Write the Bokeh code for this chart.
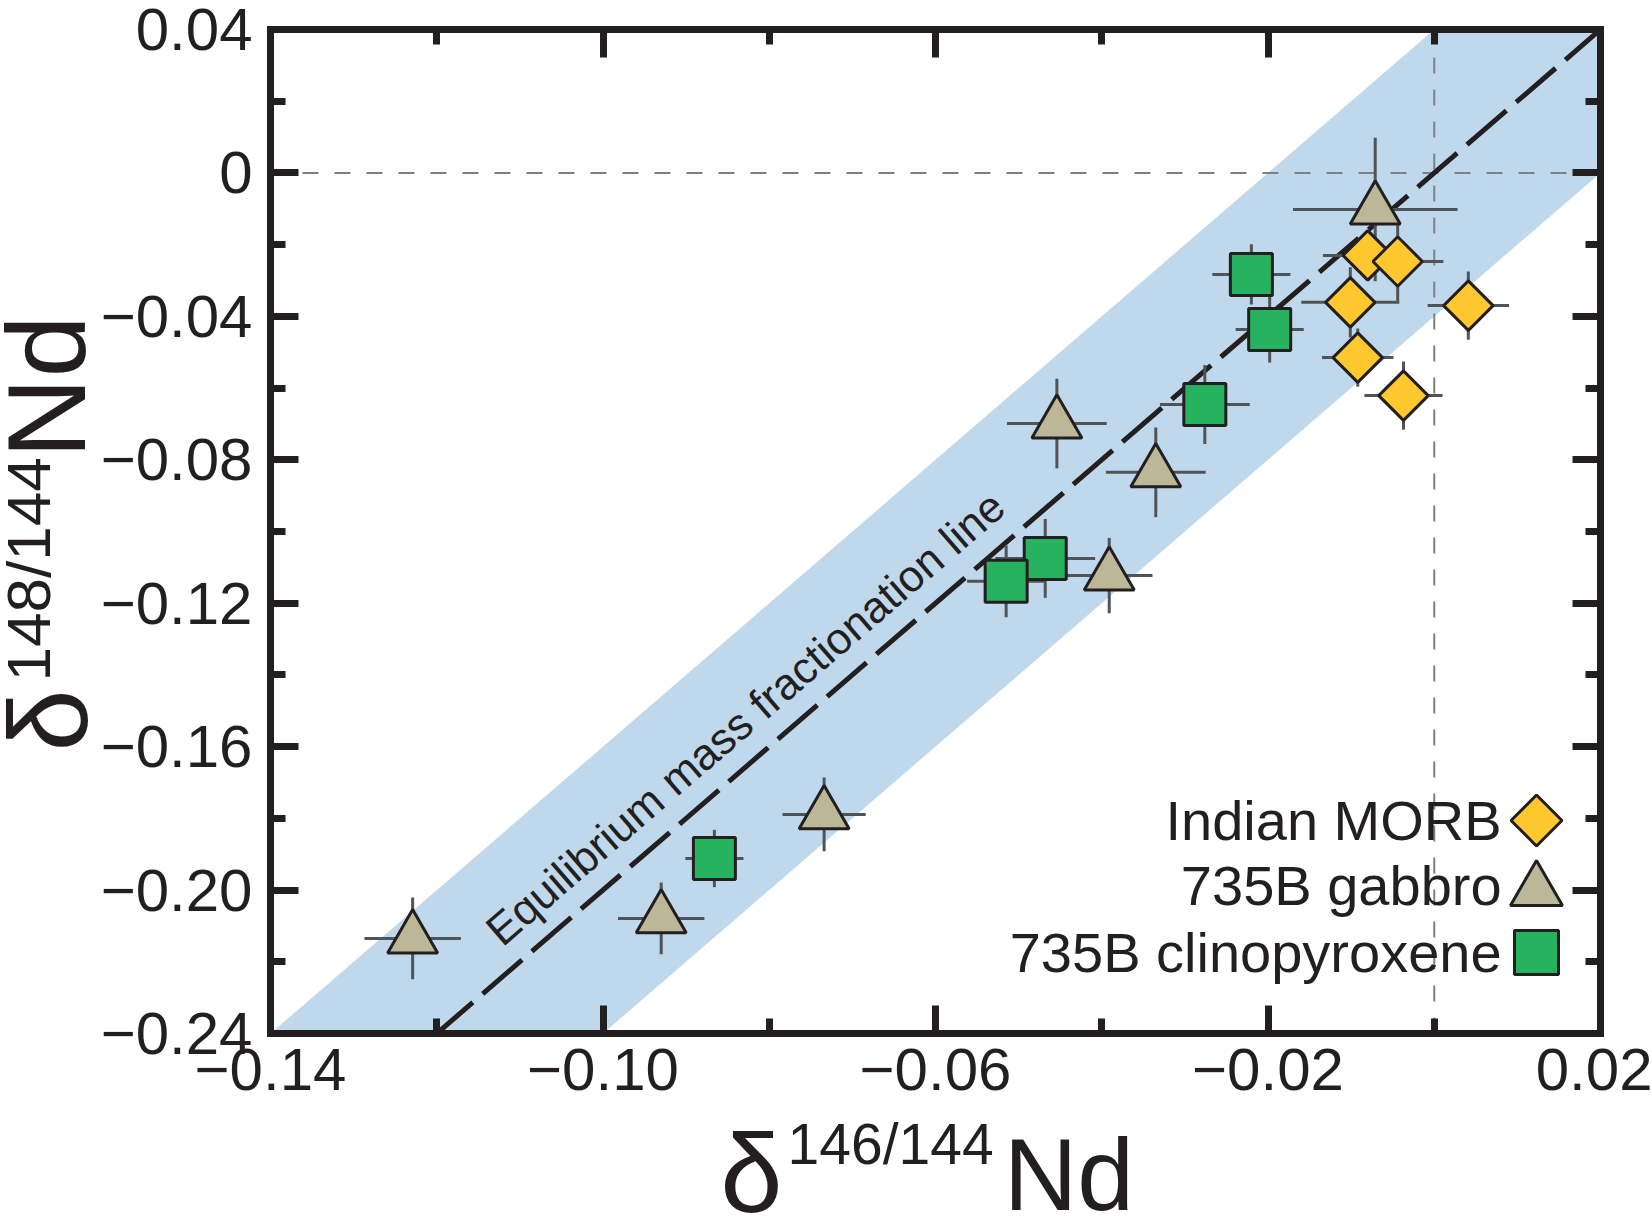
from math import atan2, pi
from bokeh.plotting import figure
from bokeh.layouts import row, column
from bokeh.models import Range1d, FixedTicker, LinearAxis, Label
from bokeh.embed import file_html
from bokeh.resources import INLINE

# ---------------- data ----------------
morb_x = [-0.0080, -0.0044, -0.0101, -0.0092, -0.0037, 0.0041]
morb_y = [-0.0230, -0.0247, -0.0361, -0.0515, -0.0621, -0.0370]
morb_xerr = [0.0054, 0.0055, 0.0059, 0.0043, 0.0047, 0.0049]
morb_yerr = [0.0070, 0.0110, 0.0098, 0.0081, 0.0095, 0.0095]

gab_x = [-0.0071, -0.0454, -0.0335, -0.0391, -0.0734, -0.0930, -0.1229]
gab_y = [-0.0102, -0.0699, -0.0835, -0.1123, -0.1789, -0.2079, -0.2135]
gab_xerr = [0.0099, 0.0060, 0.0060, 0.0052, 0.0050, 0.0052, 0.0058]
gab_yerr = [0.0200, 0.0125, 0.0125, 0.0105, 0.0103, 0.0100, 0.0114]

cpx_x = [-0.0220, -0.0198, -0.0276, -0.0468, -0.0515, -0.0866]
cpx_y = [-0.0283, -0.0437, -0.0646, -0.1075, -0.1139, -0.1912]
cpx_xerr = [0.0047, 0.0041, 0.0054, 0.0060, 0.0047, 0.0035]
cpx_yerr = [0.0084, 0.0092, 0.0110, 0.0110, 0.0100, 0.0080]

series_names = ["Indian MORB", "735B gabbro", "735B clinopyroxene"]
line_label = "Equilibrium mass fractionation line"
x_title = ["\u03b4", "146/144", "Nd"]
y_title = ["\u03b4", "148/144", "Nd"]

x_start, x_end = -0.14, 0.02
y_start, y_end = -0.24, 0.04
x_major = [-0.14, -0.10, -0.06, -0.02, 0.02]
x_labels = ["\u22120.14", "\u22120.10", "\u22120.06", "\u22120.02", "0.02"]
x_minor = [-0.14, -0.12, -0.10, -0.08, -0.06, -0.04, -0.02, 0.0, 0.02]
y_major = [0.04, 0.0, -0.04, -0.08, -0.12, -0.16, -0.20, -0.24]
y_labels = ["0.04", "0", "\u22120.04", "\u22120.08", "\u22120.12", "\u22120.16", "\u22120.20", "\u22120.24"]
y_minor = [0.04, 0.02, 0.0, -0.02, -0.04, -0.06, -0.08, -0.10, -0.12,
           -0.14, -0.16, -0.18, -0.20, -0.22, -0.24]

frac_slope = 2.0      # equilibrium mass fractionation line slope
band_half = 0.04      # half width of shaded band

# ---------------- style ----------------
INK = "#231f20"
BAR = "#4f5459"
MORB_C = "#fec82e"
GAB_C = "#bcb796"
CPX_C = "#27b25f"
BAND_C = "#c0d8eb"
REF_C = "#808080"
FONT = "Liberation Sans"

TOTAL_W, TOTAL_H = 1652, 1216
YT_W = 88            # strip for the y title
XT_H = 98            # strip for the x title
W = TOTAL_W - YT_W
H = TOTAL_H - XT_H
ML, MR, MT, MB = 182, 52, 29, 85

xr = Range1d(x_start, x_end)
yr = Range1d(y_start, y_end)

p = figure(width=W, height=H, x_range=xr, y_range=yr,
           output_backend="svg", toolbar_location=None,
           x_axis_location=None, y_axis_location=None,
           min_border_left=ML, min_border_right=MR,
           min_border_top=MT, min_border_bottom=MB)
p.xgrid.visible = False
p.ygrid.visible = False
p.outline_line_color = None
p.background_fill_color = "white"
p.border_fill_color = "white"


def make_axis(ticks, minor, labels, show):
    ax = LinearAxis(ticker=FixedTicker(ticks=ticks, minor_ticks=minor))
    ax.axis_line_width = 7
    ax.axis_line_color = INK
    ax.axis_line_cap = "square"
    ax.major_tick_in = 28
    ax.major_tick_out = 0
    ax.minor_tick_in = 15
    ax.minor_tick_out = 0
    ax.major_tick_line_width = 7
    ax.minor_tick_line_width = 7
    ax.major_tick_line_color = INK
    ax.minor_tick_line_color = INK
    if show:
        ax.major_label_overrides = dict(zip(ticks, labels))
        ax.major_label_text_font = FONT
        ax.major_label_text_font_size = "60px"
        ax.major_label_text_color = INK
    else:
        ax.major_label_overrides = {t: "" for t in ticks}
        ax.major_label_text_font_size = "1px"
        ax.major_label_standoff = 0
    return ax


bx = make_axis(x_major, x_minor, x_labels, True)
bx.major_label_standoff = 15
lx = make_axis(y_major, y_minor, y_labels, True)
lx.major_label_standoff = 18
p.add_layout(bx, "below")
p.add_layout(lx, "left")
p.add_layout(make_axis(x_major, x_minor, x_labels, False), "above")
p.add_layout(make_axis(y_major, y_minor, y_labels, False), "right")

# ---------------- band and reference lines ----------------
ends = [x_start - 0.01, x_end + 0.01]
p.varea(x=ends,
        y1=[frac_slope * v - band_half for v in ends],
        y2=[frac_slope * v + band_half for v in ends],
        fill_color=BAND_C)
p.line(x=[x_start, x_end], y=[0, 0], line_color=REF_C, line_width=2, line_dash="16 16")
p.line(x=[0, 0], y=[y_start, y_end], line_color=REF_C, line_width=2, line_dash="16 16")
p.line(x=ends, y=[frac_slope * v for v in ends], line_color=INK,
       line_width=5, line_dash="52 13")

frame_w = W - ML - MR
frame_h = H - MT - MB
ang = atan2(frac_slope * frame_h / (y_end - y_start), frame_w / (x_end - x_start))
p.add_layout(Label(x=-0.0829, y=-0.1520, text=line_label,
                   angle=ang, text_align="center", text_baseline="middle",
                   text_font=FONT, text_font_size="44px", text_color=INK))

# ---------------- error bars ----------------
for xs, ys, xe, ye in [(morb_x, morb_y, morb_xerr, morb_yerr),
                       (gab_x, gab_y, gab_xerr, gab_yerr),
                       (cpx_x, cpx_y, cpx_xerr, cpx_yerr)]:
    p.segment(x0=[a - e for a, e in zip(xs, xe)], x1=[a + e for a, e in zip(xs, xe)],
              y0=ys, y1=ys, line_color=BAR, line_width=3)
    p.segment(x0=xs, x1=xs, y0=[b - e for b, e in zip(ys, ye)],
              y1=[b + e for b, e in zip(ys, ye)], line_color=BAR, line_width=3)

# ---------------- markers ----------------
p.scatter(gab_x, gab_y, marker="triangle", size=50, fill_color=GAB_C,
          line_color=INK, line_width=3)
p.scatter(cpx_x, cpx_y, marker="square", size=42, fill_color=CPX_C,
          line_color=INK, line_width=3)
p.scatter(morb_x, morb_y, marker="square", angle=pi / 4, size=35, fill_color=MORB_C,
          line_color=INK, line_width=3)

# ---------------- legend (labels left of keys) ----------------
leg_text_x = 0.0081
leg_key_x = 0.0123
leg_text_y = [-0.1806, -0.1987, -0.2174]
leg_key_y = [-0.1806, -0.2001, -0.2174]
p.scatter([leg_key_x], [leg_key_y[0]], marker="square", angle=pi / 4, size=36,
          fill_color=MORB_C, line_color=INK, line_width=3)
p.scatter([leg_key_x], [leg_key_y[1]], marker="triangle", size=52,
          fill_color=GAB_C, line_color=INK, line_width=3)
p.scatter([leg_key_x], [leg_key_y[2]], marker="square", size=44,
          fill_color=CPX_C, line_color=INK, line_width=3)
for name, ty in zip(series_names, leg_text_y):
    p.add_layout(Label(x=leg_text_x, y=ty, text=name, text_align="right",
                       text_baseline="middle", text_font=FONT,
                       text_font_size="56px", text_color=INK))


# ---------------- axis titles (separate text strips) ----------------
def strip(w, h, x_range, y_range, bl=0, br=0):
    f = figure(width=w, height=h, x_range=x_range, y_range=y_range,
               output_backend="svg", toolbar_location=None,
               x_axis_location=None, y_axis_location=None,
               min_border=0, min_border_left=bl, min_border_right=br,
               min_border_top=0, min_border_bottom=0)
    f.xgrid.visible = False
    f.ygrid.visible = False
    f.outline_line_color = None
    f.border_fill_color = "white"
    return f


def put(f, x, y, txt, size, angle=0.0):
    f.add_layout(Label(x=x, y=y, text=txt, text_align="left", text_baseline="middle",
                       angle=angle, text_font=FONT, text_font_size=size,
                       text_color=INK))


# x title strip shares the plot's x scale (same frame borders)
fx = strip(W, XT_H, xr, Range1d(0, XT_H), bl=ML, br=MR)
put(fx, -0.0859, 43, x_title[0], "112px")
put(fx, -0.0778, 73, x_title[1], "57px")
put(fx, -0.0518, 42, x_title[2], "102px")

fy = strip(YT_W, TOTAL_H, Range1d(0, YT_W), Range1d(0, TOTAL_H))
put(fy, 48, 465, y_title[0], "112px", pi / 2)
put(fy, 28, 535, y_title[1], "62px", pi / 2)
put(fy, 46, 758, y_title[2], "112px", pi / 2)

layout = row(fy, column(p, fx))
open("out.html", "w").write(file_html(layout, INLINE))
